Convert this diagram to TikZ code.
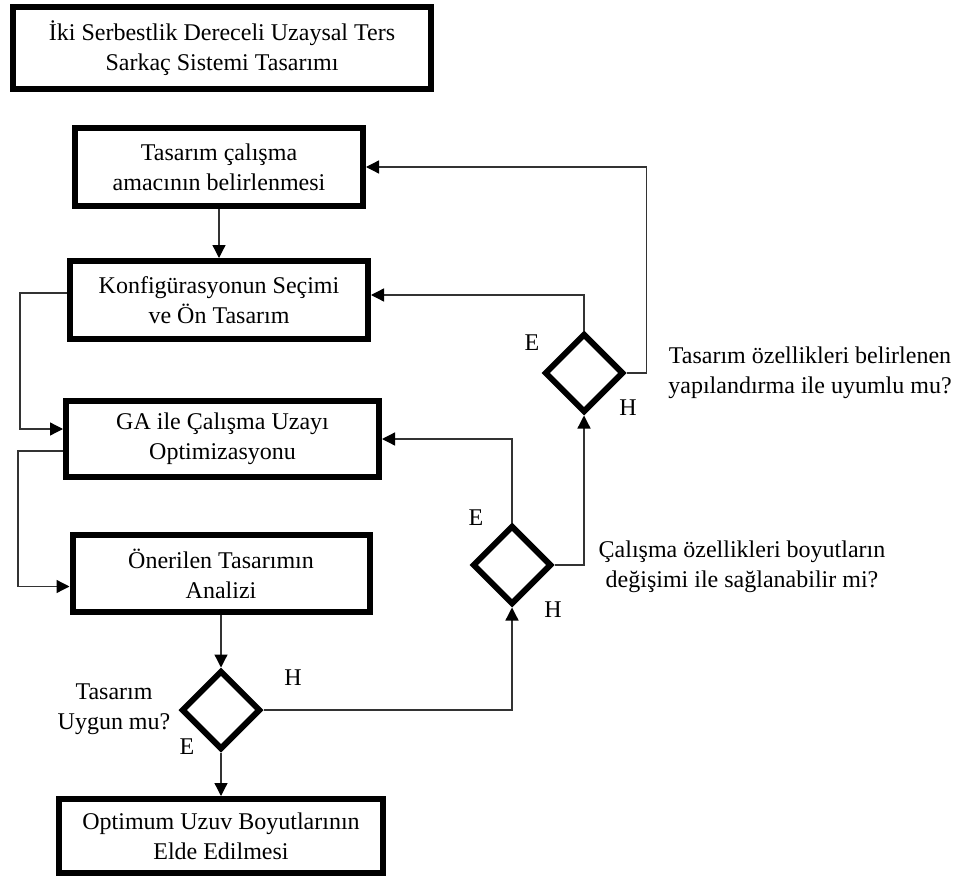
\documentclass[tikz,border=0pt]{standalone}
\usepackage{fontspec}
\setmainfont{Liberation Serif}
\usetikzlibrary{shapes.geometric,arrows.meta}

\tikzset{
  stepbox/.style={draw,line width=6pt,inner sep=0pt,align=center},
  karar/.style={diamond,draw,line width=6pt,inner sep=0pt,
    minimum width=79pt,minimum height=79pt},
  ok/.style={line width=1.3pt,draw=black!80,-{Triangle[length=13pt,width=13pt,black]}},
  etiket/.style={inner sep=0pt,align=center}
}

\begin{document}
\begin{tikzpicture}[x=1pt,y=-1pt,font=\fontsize{24}{30}\selectfont]
  \useasboundingbox (0,0) rectangle (960,877);
  % kutular
  \node[stepbox,minimum width=418,minimum height=82] (baslik) at (222,48)
    {İki Serbestlik Dereceli Uzaysal Ters\\Sarkaç Sistemi Tasarımı};
  \node[stepbox,minimum width=288,minimum height=78] (amac) at (219,167)
    {Tasarım çalışma\\amacının belirlenmesi};
  \node[stepbox,minimum width=298,minimum height=78] (konf) at (219,300)
    {Konfigürasyonun Seçimi\\ve Ön Tasarım};
  \node[stepbox,minimum width=313,minimum height=76] (ga) at (222.5,439)
    {GA ile Çalışma Uzayı\\Optimizasyonu};
  \node[stepbox,minimum width=297,minimum height=77] (analiz) at (221,573.5)
    {Önerilen Tasarımın\\Analizi};
  \node[stepbox,minimum width=324,minimum height=74] (sonuc) at (221,836)
    {Optimum Uzuv Boyutlarının\\Elde Edilmesi};
  % karar kutulari
  \node[karar] (uygun) at (221,710) {};
  \node[karar] (boyut) at (512,565) {};
  \node[karar] (yapi) at (584,373) {};
  % sorular
  \node[etiket] (q1) at (114,709) {Tasarım\\Uygun mu?};
  \node[etiket] (q2) at (742,567) {Çalışma özellikleri boyutların\\değişimi ile sağlanabilir mi?};
  \node[etiket] (q3) at (810,373) {Tasarım özellikleri belirlenen\\yapılandırma ile uyumlu mu?};
  % E / H
  \node[etiket] (h1) at (293,678) {H};
  \node[etiket] (e1) at (187,747) {E};
  \node[etiket] (e2) at (476,518) {E};
  \node[etiket] (h2) at (553,610) {H};
  \node[etiket] (e3) at (532,343) {E};
  \node[etiket] (h3) at (628,408) {H};
  % baglantilar
  \draw[ok] (amac) -- (konf);
  \draw[ok] (analiz) -- (uygun);
  \draw[ok] (uygun) -- (sonuc);
  \draw[ok] ([yshift=7]konf.west) -- ++(-47,0) |- ([yshift=10]ga.west);
  \draw[ok] ([yshift=-12]ga.west) -- ++(-45,0) |- ([yshift=-13]analiz.west);
  \draw[ok] (uygun.east) -| (boyut.south);
  \draw[ok] (boyut.north) |- (ga.east);
  \draw[ok] (boyut.east) -| (yapi.south);
  \draw[ok] (yapi.north) |- ([yshift=5]konf.east);
  \draw[ok] (yapi.east) -- ++(20,0) |- (amac.east);
\end{tikzpicture}
\end{document}
